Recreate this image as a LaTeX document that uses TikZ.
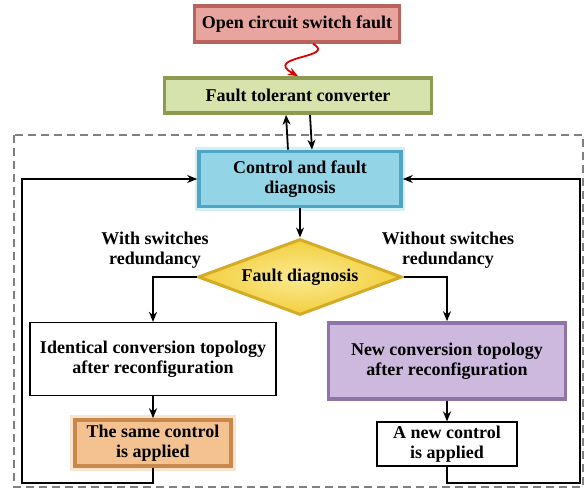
\documentclass[tikz,border=0pt]{standalone}
\usepackage{fontspec}
\setmainfont{Liberation Serif}
\usepackage{tikz}
\usetikzlibrary{shapes.geometric, arrows, arrows.meta}
\usetikzlibrary{calc}
\definecolor{faultred}{HTML}{E8A49E}
\definecolor{faultredd}{HTML}{B8645C}
\definecolor{convgreen}{HTML}{D6E3AC}
\definecolor{convgreend}{HTML}{8C9B50}
\definecolor{ctrlblue}{HTML}{93D4E7}
\definecolor{ctrlblued}{HTML}{4EA6C4}
\definecolor{diagyellow}{HTML}{F2CF3E}
\definecolor{diagyellowl}{HTML}{FBEA92}
\definecolor{diagyellowd}{HTML}{D5AA26}
\definecolor{topopurple}{HTML}{CDB9DE}
\definecolor{topopurpled}{HTML}{8E74A9}
\definecolor{sameorange}{HTML}{F3C290}
\definecolor{sameoranged}{HTML}{C8884B}
\tikzstyle{box} = [rectangle, inner sep=0pt, text centered, align=center, font=\bfseries\fontsize{9}{10}\selectfont]
\tikzstyle{arrow} = [line width=0.9pt,->,>={Stealth[length=5pt,width=4pt]}]

\begin{document}
\begin{tikzpicture}[x=0.5pt, y=-0.5pt]
        \tikzstyle{bevel} = [box, line width=1.8pt]
        \tikzstyle{plain} = [box, draw=black, line width=0.6pt, fill=white]
        \tikzstyle{lbl} = [align=center, font=\bfseries\fontsize{9}{10}\selectfont]

        \useasboundingbox (0,0) rectangle (584,492);

        \draw[gray, dashed, dash pattern=on 4pt off 2.5pt, line width=0.6pt] (14,135) rectangle (583,487);

        \node (fault) at (297, 24) [bevel, draw=faultredd, fill=faultred, minimum width=102.5pt, minimum height=18pt] {Open circuit switch fault};
        \node (conv) at (298, 95.5) [bevel, draw=convgreend, fill=convgreen, minimum width=133.5pt, minimum height=17.5pt] {Fault tolerant converter};
        \node (ctrl) at (300, 179) [bevel, draw=ctrlblued, fill=ctrlblue, minimum width=101pt, minimum height=27.5pt,
            preaction={draw=ctrlblue!40, line width=4pt}] {Control and fault\\diagnosis};
        \node (diag) at (300, 277) [diamond, aspect=2.7, draw=diagyellowd, inner color=diagyellowl, outer color=diagyellow, line width=1.5pt, inner sep=0pt,
            minimum width=102pt, minimum height=38pt, font=\bfseries\fontsize{9}{10}\selectfont] {Fault diagnosis};

        \node (with) at (155, 250) [lbl] {With switches\\redundancy};
        \node (without) at (448, 250) [lbl] {Without switches\\redundancy};

        \node (ident) at (153, 359) [plain, minimum width=123pt, minimum height=36.5pt] {Identical conversion topology\\after reconfiguration};
        \node (newtopo) at (447, 361) [bevel, draw=topopurpled, fill=topopurple, minimum width=118.5pt, minimum height=38pt] {New conversion topology\\after reconfiguration};
        \node (same) at (153, 443) [bevel, draw=sameoranged, fill=sameorange, minimum width=78pt, minimum height=23pt,
            preaction={draw=sameorange!45, line width=5pt}] {The same control\\is applied};
        \node (newctrl) at (447, 444) [plain, minimum width=70pt, minimum height=22pt] {A new control\\is applied};

        \coordinate (bl) at (22, 483);
        \coordinate (br) at (580, 483);

        % fault enters the converter
        \draw[arrow, color=red!85!black] ([xshift=8pt]fault.south) .. controls (338, 58) and (262, 56) .. (conv.north);

        \draw[arrow] ([xshift=-6pt]ctrl.north) -- ([xshift=-6pt]conv.south);
        \draw[arrow] ([xshift=6pt]conv.south) -- ([xshift=6pt]ctrl.north);
        \draw[arrow] (ctrl) -- (diag);

        \draw[arrow] (diag.west) -| (ident.north);
        \draw[arrow] (diag.east) -| (newtopo.north);
        \draw[arrow] (ident) -- (same);
        \draw[arrow] (newtopo) -- (newctrl);

        % feedback to the controller
        \draw[arrow] (same.south) |- (bl) |- (ctrl.west);
        \draw[arrow] (newctrl.south) |- (br) |- (ctrl.east);
    \end{tikzpicture}
\end{document}
